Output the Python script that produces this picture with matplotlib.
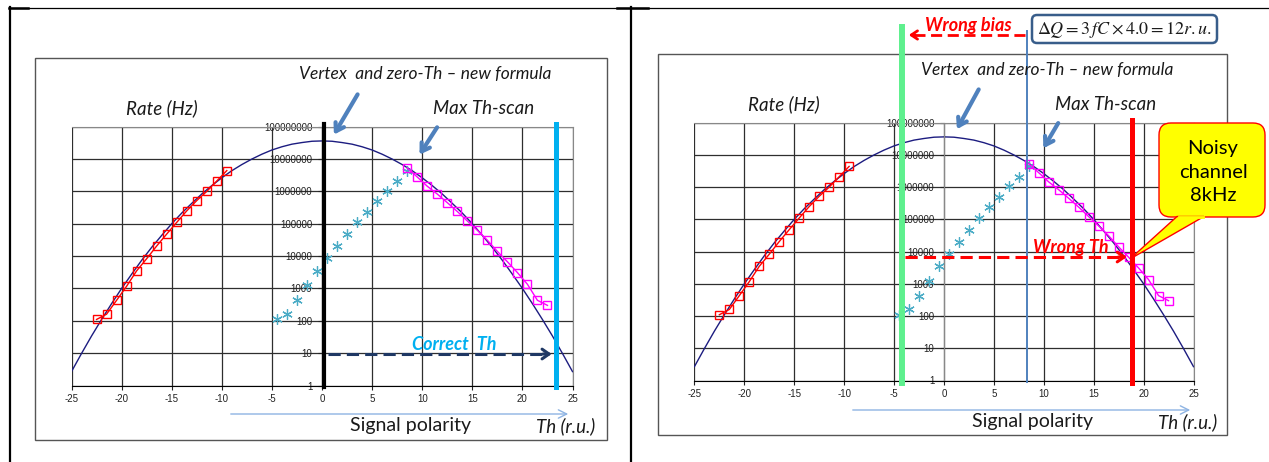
import matplotlib.pyplot as plt
import numpy as np
from matplotlib.patches import FancyBboxPatch, Polygon, Rectangle
from matplotlib.ticker import FixedLocator, FuncFormatter, NullLocator

plt.rcParams['mathtext.fontset'] = 'stix'
plt.rcParams['font.family'] = ['Lato', 'DejaVu Sans']

W, H = 1269, 462

fit_x = np.arange(-25, 26)
fit_exp = np.array([0.43, 0.99, 1.53, 2.04, 2.53, 3.00, 3.44, 3.87, 4.27, 4.64,
                    5.00, 5.33, 5.63, 5.92, 6.18, 6.42, 6.64, 6.83, 7.00, 7.15,
                    7.28, 7.38, 7.46, 7.51, 7.55, 7.56, 7.55, 7.51, 7.46, 7.38,
                    7.28, 7.15, 7.00, 6.83, 6.64, 6.42, 6.18, 5.92, 5.63, 5.33,
                    5.00, 4.64, 4.27, 3.87, 3.44, 3.00, 2.53, 2.04, 1.53, 0.99, 0.43])
fit_rate = 10.0 ** fit_exp

neg_x = [-22.5, -21.5, -20.5, -19.5, -18.5, -17.5, -16.5, -15.5, -14.5, -13.5,
         -12.5, -11.5, -10.5, -9.5]
neg_rate = [110, 160, 430, 1170, 3500, 8300, 20500, 48000, 110000, 250000,
            520000, 1.0e6, 2.1e6, 4.4e6]

star_x = [-4.5, -3.5, -2.5, -1.5, -0.5, 0.5, 1.5, 2.5, 3.5, 4.5, 5.5, 6.5, 7.5, 8.5]
star_rate = [110, 160, 430, 1250, 3500, 8700, 20500, 48000, 110000, 235000,
             500000, 1.05e6, 2.1e6, 4.4e6]

pos_x = [8.5, 9.5, 10.5, 11.5, 12.5, 13.5, 14.5, 15.5, 16.5, 17.5, 18.5, 19.5,
         20.5, 21.5, 22.5]
pos_rate = [5.3e6, 2.8e6, 1.45e6, 8.3e5, 4.5e5, 2.4e5, 1.22e5, 6.3e4, 3.1e4,
            1.4e4, 6700, 3100, 1350, 430, 300]

x_ticks = np.arange(-25, 26, 5)
y_ticks = 10.0 ** np.arange(0, 9)

fig = plt.figure(figsize=(12.69, 4.62), dpi=100)

back = fig.add_axes([0, 0, 1, 1], zorder=-1)
back.set_xlim(0, W)
back.set_ylim(H, 0)
back.axis('off')

# slide frame
back.plot([9, W], [7.5, 7.5], color='black', lw=0.9)
back.plot([9, 28], [7.5, 7.5], color='black', lw=1.8)
back.plot([617, 648], [7.5, 7.5], color='black', lw=1.8)
back.plot([10, 10], [7, H], color='black', lw=1.6)
back.plot([631, 631], [7, H], color='black', lw=1.6)

# chart boxes
back.add_patch(Rectangle((35, 58), 572, 382, fc='white', ec='#555555', lw=1))
back.add_patch(Rectangle((658, 54), 569, 381, fc='white', ec='#555555', lw=1))


def px_axes(x0, y0, x1, y1):
    return fig.add_axes([x0 / W, 1 - y1 / H, (x1 - x0) / W, (y1 - y0) / H])


def draw_chart(ax):
    ax.set_yscale('log')
    ax.set_xlim(-25, 25)
    ax.set_ylim(1, 1e8)
    ax.xaxis.set_major_locator(FixedLocator(x_ticks))
    ax.xaxis.set_major_formatter(FuncFormatter(lambda v, p: f'{v:.0f}'))
    ax.yaxis.set_major_locator(FixedLocator(y_ticks))
    ax.yaxis.set_minor_locator(NullLocator())
    ax.yaxis.set_major_formatter(FuncFormatter(lambda v, p: f'{v:.0f}'))
    ax.spines['left'].set_position(('data', 0))
    ax.spines['left'].set_color('#888888')
    ax.spines['top'].set_color('#888888')
    ax.spines['right'].set_color('#888888')
    ax.spines['bottom'].set_color('black')
    ax.grid(True, color='#2e2e2e', lw=0.9)
    ax.set_axisbelow(True)
    ax.tick_params(axis='x', length=3, pad=3, labelsize=7, colors='#222222')
    ax.tick_params(axis='y', length=3, pad=4, labelsize=7, colors='#222222')
    for lab in ax.get_xticklabels() + ax.get_yticklabels():
        lab.set_family('Liberation Sans')
    ax.plot(fit_x, fit_rate, color='#1c1c80', lw=1)
    ax.plot(neg_x, neg_rate, color='red', marker='s', mfc='none', ms=5.5, mew=1, lw=1)
    ax.plot(star_x, star_rate, ls='none', marker=(6, 2, 0), ms=7.5, mew=0.9, color='#4bacc6')
    ax.plot(pos_x, pos_rate, color='#ff00ff', marker='s', mfc='none', ms=5.5, mew=1, lw=1)


# left chart
axl = px_axes(71.5, 126.7, 572.5, 385.5)
draw_chart(axl)
axl.axvline(0.2, ymin=-0.006, ymax=1.01, color='black', lw=3, clip_on=False, zorder=6)
axl.axvline(23.4, ymin=-0.006, ymax=1.01, color='#00b0f0', lw=3.6, clip_on=False, zorder=6)
axl.plot([0.6, 22.3], [9.4, 9.4], color='#1f3864', lw=2.2, ls=(0, (4, 2)), zorder=6)
axl.annotate('', xy=(23.2, 9.4), xytext=(21.8, 9.4),
             arrowprops=dict(arrowstyle='->,head_length=0.5,head_width=0.35',
                             color='#1f3864', lw=2.2), zorder=6)

# right chart
axr = px_axes(694.4, 122.7, 1193.5, 380.5)
draw_chart(axr)
axr.axvline(-4.2, ymin=-0.01, ymax=1.371, color='#5ef08e', lw=4.3, clip_on=False, zorder=6)
axr.axvline(8.3, ymin=-0.006, ymax=1.355, color='#4f81bd', lw=1.4, clip_on=False, zorder=6)
axr.axvline(18.8, ymin=-0.01, ymax=1.0105, color='red', lw=3.6, clip_on=False, zorder=6)
axr.plot([-3.9, 17.6], [6800, 6800], color='red', lw=2.2, ls=(0, (4, 2)), zorder=6)
axr.annotate('', xy=(18.6, 6800), xytext=(17.2, 6800),
             arrowprops=dict(arrowstyle='->,head_length=0.5,head_width=0.35',
                             color='red', lw=2.2), zorder=6)

front = fig.add_axes([0, 0, 1, 1], zorder=10)
front.set_xlim(0, W)
front.set_ylim(H, 0)
front.axis('off')

it = dict(style='italic', fontsize=12.5, color='#1a1a1a', ha='center', va='center')
for dx, dy in [(0, 0), (622, -4)]:
    front.text(162 + dx, 108 + dy, 'Rate (Hz)', style='italic', fontsize=13.5,
               color='#1a1a1a', ha='center', va='center')
    front.text(425 + dx, 74 + dy, 'Vertex  and zero-Th \u2013 new formula', **it)
    front.text(484 + dx, 108 + dy, 'Max Th-scan', style='italic', fontsize=13.5,
               color='#1a1a1a', ha='center', va='center')
    front.text(410 + dx, 426 + dy, 'Signal polarity', fontsize=14, color='#1a1a1a',
               ha='center', va='center')
    front.text(566 + dx, 426 + dy, 'Th (r.u.)', style='italic', fontsize=13.5,
               color='#1a1a1a', ha='center', va='center')
    front.annotate('', xy=(571 + dx, 414 + dy), xytext=(228 + dx, 414 + dy),
                   arrowprops=dict(arrowstyle='->,head_length=0.6,head_width=0.3',
                                   color='#8eb4e3', lw=1))

blue_arrows = [((359, 92), (332.5, 137)), ((438.6, 125), (418, 157)),
               ((980, 87), (955.6, 131.7)), ((1059.6, 120.7), (1042, 150.7))]
for tail, head in blue_arrows:
    front.annotate('', xy=head, xytext=tail,
                   arrowprops=dict(arrowstyle='->,head_length=0.55,head_width=0.35',
                                   color='#4f81bd', lw=3))

front.text(454, 345, 'Correct  Th', style='italic', weight='bold', fontsize=13,
           color='#00b0f0', ha='center', va='center')
front.text(1071, 248, 'Wrong Th', style='italic', weight='bold', fontsize=13,
           color='red', ha='center', va='center')
front.text(968, 25, 'Wrong bias', style='italic', weight='bold', fontsize=13,
           color='red', ha='center', va='center')
front.plot([1025, 914], [35, 35], color='red', lw=2, ls=(0, (4, 2)))
front.annotate('', xy=(906, 35), xytext=(918, 35),
               arrowprops=dict(arrowstyle='->,head_length=0.45,head_width=0.3',
                               color='red', lw=2))

# formula box
front.add_patch(FancyBboxPatch((1032, 15), 185, 28, boxstyle='round,pad=0,rounding_size=5',
                               fc='white', ec='#385d8a', lw=1.8))
front.text(1124.5, 29.5, r'$\Delta Q = 3\,fC \times 4.0 = 12r.u.$', fontsize=13,
           color='#1a1a1a', ha='center', va='center')

# callout
front.add_patch(FancyBboxPatch((1159, 123), 106, 94, boxstyle='round,pad=0,rounding_size=12',
                               fc='#ffff00', ec='red', lw=1))
front.add_patch(Polygon([(1177, 216.5), (1130, 259), (1204, 216.5)], closed=True,
                        fc='#ffff00', ec='red', lw=1))
front.plot([1178.5, 1202.5], [216.8, 216.8], color='#ffff00', lw=2)
front.text(1213, 172, 'Noisy\nchannel\n8kHz', fontsize=14.5, color='black',
           ha='center', va='center', linespacing=1.45)

fig.savefig('out.png', dpi=100)
